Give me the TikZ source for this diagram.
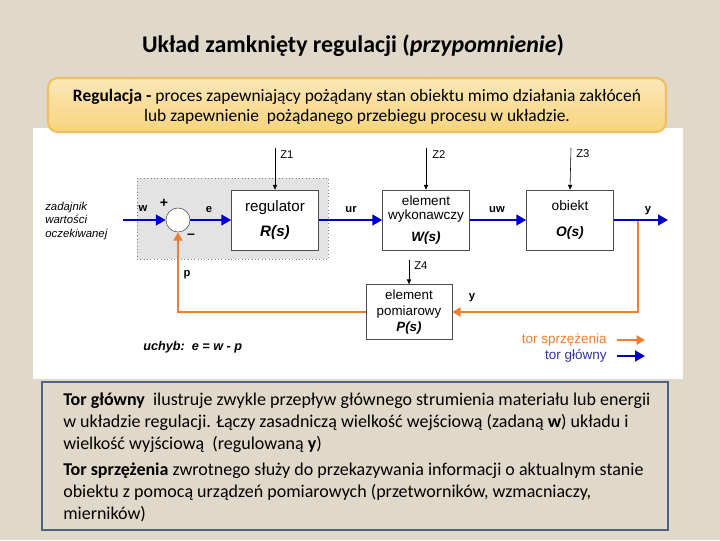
\documentclass[tikz,border=0pt]{standalone}
\usepackage{fontspec}
\setsansfont{Liberation Sans}
\newfontfamily\calibri{Carlito}
\usetikzlibrary{arrows.meta}
\definecolor{tlo}{RGB}{224,216,200}
\definecolor{glowny}{RGB}{0,0,204}
\definecolor{sprzez}{RGB}{237,125,49}
\definecolor{ramka}{RGB}{79,98,134}
\definecolor{zolty}{RGB}{247,212,125}
\definecolor{zoltyb}{RGB}{242,190,100}
\definecolor{legnieb}{RGB}{51,51,153}
\begin{document}
\begin{tikzpicture}[x=0.025cm,y=-0.025cm,
    >={Triangle[length=7pt,width=7.5pt]},
    blok/.style={draw=gray!60!black,fill=white,align=center,inner sep=0pt,
        minimum width=2.175cm,minimum height=1.5cm},
    glow/.style={->,glowny,line width=2pt},
    spr/.style={-{Triangle[length=6pt,width=6.5pt]},sprzez,line width=1.5pt},
    zakl/.style={-{Triangle[length=3.5pt,width=3pt]},line width=0.4pt},
    etyk/.style={font=\sffamily\bfseries\fontsize{8}{9}\selectfont,inner sep=0pt},
    zet/.style={font=\sffamily\fontsize{8}{9}\selectfont,inner sep=0pt,anchor=west},
    legenda/.style={font=\sffamily\fontsize{9.6}{11}\selectfont,inner sep=0pt,anchor=east}
]
\useasboundingbox (0,0) rectangle (720,540);
\fill[tlo] (0,0) rectangle (720,540);
\fill[white] (33,128) rectangle (683,379);

\node[font=\calibri\bfseries\fontsize{17}{20}\selectfont] (tytul) at (353,46)
    {Układ zamknięty regulacji (\textit{przypomnienie})};

\draw[zoltyb,line width=1.5pt,rounded corners=7pt,top color=zolty!55,bottom color=zolty]
    (48,78) rectangle (666,132);
\node[align=center,font=\calibri\fontsize{12.4}{14.2}\selectfont] (definicja) at (357,107)
    {\textbf{Regulacja -} proces zapewniający pożądany stan obiektu mimo działania zakłóceń\\
     lub zapewnienie\ \ pożądanego przebiegu procesu w układzie.};

% blok regulatora z wezlem sumacyjnym
\draw[gray,dotted,fill=gray!22] (137,178) rectangle (328,259);
\node[circle,draw=gray!60!black,fill=white,minimum size=0.6cm,inner sep=0pt] (sum) at (178,220) {};
\node[blok,font=\sffamily\fontsize{10.8}{13}\selectfont] (reg) at (275,220)
    {regulator\\[5pt]\textbf{\textit{R(s)}}};
\node[blok,font=\sffamily\fontsize{9.6}{10}\selectfont] (wyk) at (426,220)
    {element\\wykonawczy\\[5pt]\textbf{\textit{W(s)}}};
\node[blok,font=\sffamily\fontsize{9.8}{12}\selectfont] (obj) at (570,220)
    {obiekt\\[6.5pt]\textbf{\textit{O(s)}}};
\node[blok,minimum width=2.15cm,minimum height=1.375cm,font=\sffamily\fontsize{9.5}{11.3}\selectfont]
    (pom) at (409,312) {element\\pomiarowy\\\textbf{\textit{P(s)}}};

\node[font=\sffamily\itshape\fontsize{8.1}{9.6}\selectfont,align=left,anchor=west,inner sep=0pt]
    (zad) at (45,221) {zadajnik\\wartości\\oczekiwanej};
\coordinate (wej) at (123,220);
\coordinate (rozg) at (638,220);
\coordinate (wyj) at (668,220);
\coordinate (z1) at (275,148);
\coordinate (z2) at (426,148);
\coordinate (z3) at (571,148);
\coordinate (z4) at (409,260);

% tor sprzezenia
\draw[spr] (rozg) |- (pom.east);
\draw[spr] (pom.west) -| (sum.south);

% tor glowny
\draw[glow] (wej) -- (sum.west);
\draw[glow] (sum.east) -- (reg.west);
\draw[glow] (reg.east) -- (wyk.west);
\draw[glow] (wyk.east) -- (obj.west);
\draw[glow] (obj.east) -- (wyj);

% zaklocenia
\draw[zakl] (z1) -- (reg.north);
\draw[zakl] (z2) -- (wyk.north);
\draw[zakl] (z3) -- (obj.north);
\draw[zakl] (z4) -- (pom.north);
\node[zet] (lz1) at (280,155) {Z1};
\node[zet] (lz2) at (432,155) {Z2};
\node[zet] (lz3) at (576,154) {Z3};
\node[zet] (lz4) at (414,266) {Z4};

\node[etyk] (lw) at (143,209) {w};
\node[etyk] (le) at (209,210) {e};
\node[etyk] (lur) at (351,210) {ur};
\node[etyk] (luw) at (497,210) {uw};
\node[etyk] (ly) at (648,211) {y};
\node[etyk] (ly2) at (472,298) {y};
\node[etyk] (lp) at (187,275) {p};
\node[font=\sffamily\bfseries\fontsize{10}{11}\selectfont,inner sep=0pt] (plus) at (164,203) {+};
\node[font=\sffamily\bfseries\fontsize{10}{11}\selectfont,inner sep=0pt] (minus) at (191,236) {--};

\node[font=\sffamily\bfseries\itshape\fontsize{9}{10}\selectfont,anchor=west,inner sep=0pt]
    (uchyb) at (143,347) {uchyb:\ \ e = w - p};

% legenda
\node[legenda,text=sprzez] (lsp) at (607,340) {tor sprzężenia};
\node[legenda,text=legnieb] (lgl) at (607,356) {tor główny};
\coordinate (lsp1) at (617,340);
\coordinate (lsp2) at (645,340);
\coordinate (lgl1) at (617,356);
\coordinate (lgl2) at (645,356);
\draw[spr,line width=2pt] (lsp1) -- (lsp2);
\draw[glow] (lgl1) -- (lgl2);

\draw[ramka,line width=2pt,fill=tlo] (42,382) rectangle (668,530);
\node[anchor=north west,align=left,inner sep=0pt,font=\calibri\fontsize{12.8}{15.6}\selectfont]
    (opis) at (63,393)
    {\textbf{Tor główny}\ \ ilustruje zwykle przepływ głównego strumienia materiału lub energii\\
     w układzie regulacji. Łączy zasadniczą wielkość wejściową (zadaną \textbf{w}) układu i\\
     wielkość wyjściową\ \ (regulowaną \textbf{y})\\[3pt]
     \textbf{Tor sprzężenia} zwrotnego służy do przekazywania informacji o aktualnym stanie\\
     obiektu z pomocą urządzeń pomiarowych (przetworników, wzmacniaczy,\\
     mierników)};
\end{tikzpicture}
\end{document}
